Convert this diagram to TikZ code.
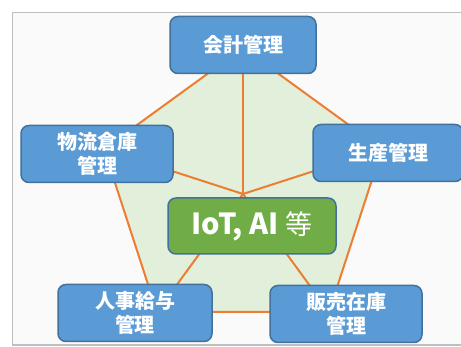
\documentclass[tikz,border=0pt]{standalone}
\usepackage{fontspec}
\setmainfont{Noto Sans CJK JP}
\definecolor{boxblue}{HTML}{5B9BD5}
\definecolor{boxline}{HTML}{41719C}
\definecolor{coregreen}{HTML}{70AD47}
\definecolor{areagreen}{HTML}{E2EFDA}
\definecolor{linkorange}{HTML}{ED7D31}
\definecolor{framegray}{HTML}{BFBFBF}
\definecolor{panelgray}{HTML}{FAFAFA}

\begin{document}
\begin{tikzpicture}[x=1pt, y=-1pt,
    department/.style ={rectangle, rounded corners=8pt, draw=boxline, line width=1.5pt,
      fill=boxblue, text=white, align=center, minimum width=152pt, minimum height=57pt,
      font=\fontsize{20}{24}\selectfont\bfseries},
    core/.style ={rectangle, rounded corners=8pt, draw=boxline, line width=1.5pt,
      fill=coregreen, text=white, minimum width=168pt, minimum height=56pt},
    link/.style ={draw=linkorange, line width=2pt}]
   \clip (0,0) rectangle (461,347);
   \fill[white] (0,0) rectangle (461,347);
   \draw[framegray, line width=1.5pt, fill=panelgray] (12.5,12.5) rectangle (480,345);
   % pentagon
   \coordinate (C) at (243,194);
   \coordinate (P1) at (243,48);
   \coordinate (P2) at (104,149);
   \coordinate (P3) at (157,312);
   \coordinate (P4) at (329,312);
   \coordinate (P5) at (382,149);
   \draw[link, fill=areagreen] (P1) -- (P2) -- (P3) -- (P4) -- (P5) -- cycle;
   \foreach \p in {P1,P2,P3,P4,P5}
     \draw[link] (C) to (\p);
   % boxes
   \node[department, minimum width=146pt] (acc) at (243,45) {会計管理};
   \node[department] (log) at (97,154) {物流倉庫\\管理};
   \node[department, minimum width=150pt] (prod) at (388,153) {生産管理};
   \node[department, minimum width=154pt] (hr) at (135,313) {人事給与\\管理};
   \node[department] (sales) at (346,314) {販売在庫\\管理};
   \node[core] (tech) at (252,226)
     {\fontsize{29}{30}\selectfont\bfseries IoT, AI \mdseries\fontsize{27}{30}\selectfont 等};
\end{tikzpicture}
\end{document}
